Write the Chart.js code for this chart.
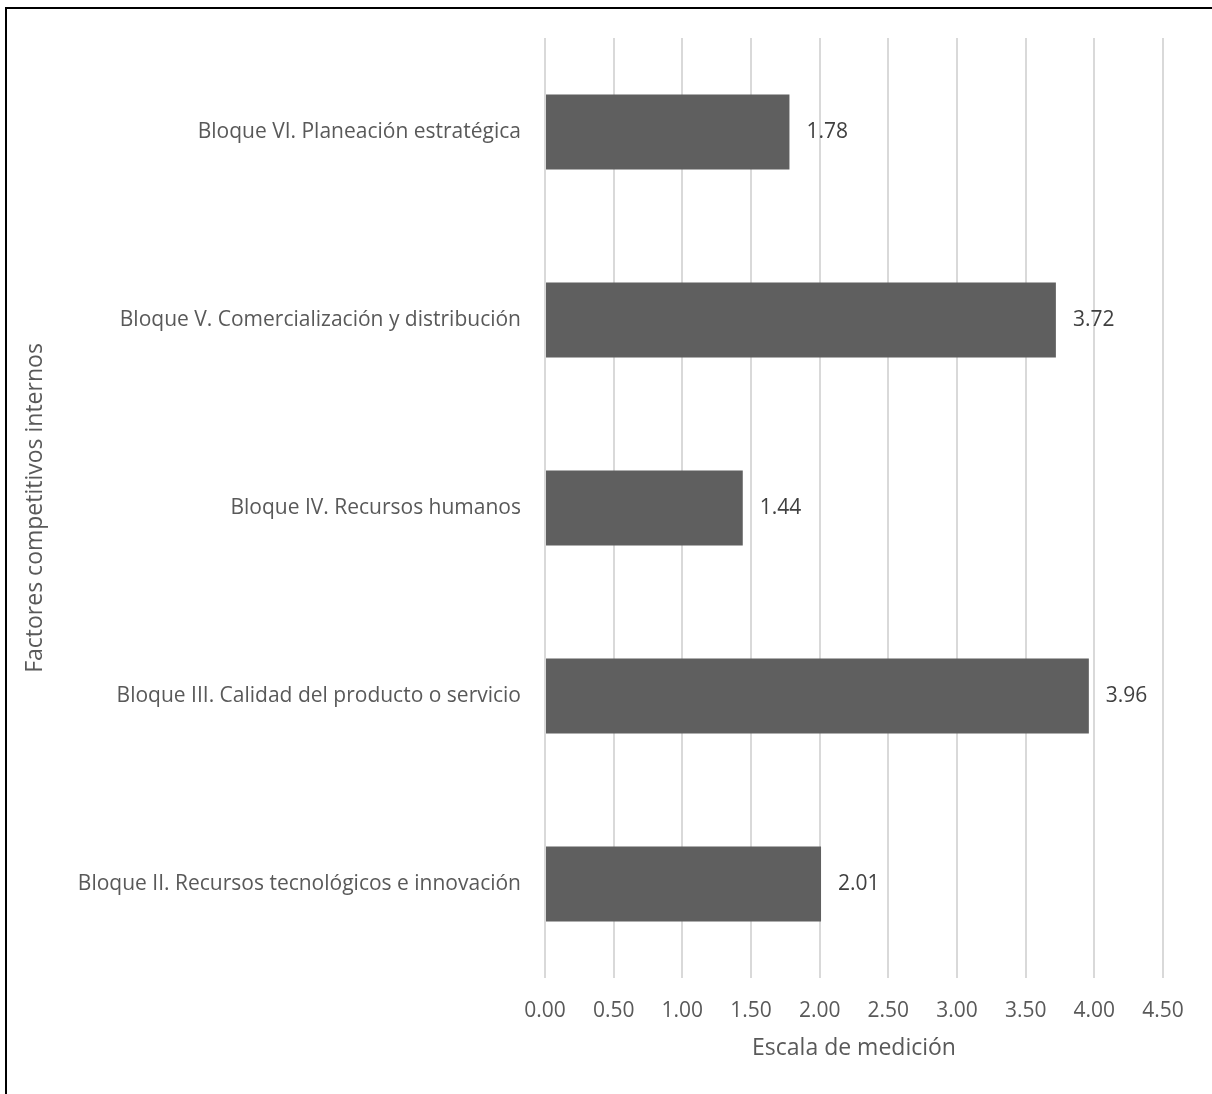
<!DOCTYPE html>
<html lang="es">
<head>
<meta charset="utf-8">
<title>Factores competitivos internos</title>
<script src="https://cdn.jsdelivr.net/npm/chart.js@4.4.1/dist/chart.umd.min.js"></script>
<style>
  html, body { margin: 0; padding: 0; background: #ffffff; overflow: hidden; }
  #wrap { position: relative; width: 1212px; height: 1094px; }
  #frame {
    position: absolute; left: 5px; top: 7px; width: 1300px; height: 1200px;
    border-top: 2px solid #000; border-left: 2px solid #000; box-sizing: border-box;
    pointer-events: none;
  }
  canvas { position: absolute; left: 0; top: 0; }
</style>
</head>
<body>
<div id="wrap">
  <canvas id="chart" width="1212" height="1094"></canvas>
  <div id="frame"></div>
</div>
<script>
// Categories, top to bottom
const categories = [
  'Bloque VI. Planeación estratégica',
  'Bloque V. Comercialización y distribución',
  'Bloque IV. Recursos humanos',
  'Bloque III. Calidad del producto o servicio',
  'Bloque II. Recursos tecnológicos e innovación'
];
// Mean score per block
const scores = [1.78, 3.72, 1.44, 3.96, 2.01];
// Measurement scale ticks
const scaleTicks = [0, 0.5, 1, 1.5, 2, 2.5, 3, 3.5, 4, 4.5];
const xTitle = 'Escala de medición';
const yTitle = 'Factores competitivos internos';

const FONT = '"Open Sans", "Liberation Sans", sans-serif';

// Value labels to the right of each bar
const valueLabels = {
  id: 'valueLabels',
  afterDatasetsDraw(chart) {
    const ctx = chart.ctx;
    const meta = chart.getDatasetMeta(0);
    ctx.save();
    ctx.font = '21px ' + FONT;
    ctx.fillStyle = '#404040';
    ctx.textAlign = 'left';
    ctx.textBaseline = 'middle';
    meta.data.forEach((bar, i) => {
      ctx.fillText(scores[i].toFixed(2), bar.x + 17, bar.y);
    });
    ctx.restore();
  }
};

new Chart(document.getElementById('chart'), {
  type: 'bar',
  data: {
    labels: categories,
    datasets: [{
      data: scores,
      backgroundColor: '#5f5f5f',
      borderWidth: 0,
      barPercentage: 0.4,
      categoryPercentage: 1.0
    }]
  },
  options: {
    indexAxis: 'y',
    responsive: false,
    animation: false,
    devicePixelRatio: 1,
    layout: { padding: { top: 38, right: 49, bottom: 0, left: 0 } },
    plugins: { legend: { display: false }, tooltip: { enabled: false } },
    scales: {
      x: {
        min: 0,
        max: 4.5,
        afterBuildTicks(scale) { scale.ticks = scaleTicks.map(v => ({ value: v })); },
        afterFit(scale) { scale.height = 116; },
        grid: { color: '#d9d9d9', lineWidth: 2, drawTicks: false },
        border: { display: false },
        ticks: {
          padding: 20,
          color: '#595959',
          font: { family: FONT, size: 21 },
          callback: v => Number(v).toFixed(2)
        },
        title: {
          display: true,
          text: xTitle,
          color: '#595959',
          font: { family: FONT, size: 23 },
          padding: { top: 0, bottom: 32 }
        }
      },
      y: {
        afterFit(scale) { scale.width = 545; },
        grid: { display: false, drawTicks: false },
        border: { display: false },
        ticks: {
          padding: 24,
          color: '#595959',
          font: { family: FONT, size: 21 }
        },
        title: {
          display: true,
          text: yTitle,
          color: '#595959',
          font: { family: FONT, size: 23 },
          padding: { top: 22, bottom: 0 }
        }
      }
    }
  },
  plugins: [valueLabels]
});
</script>
</body>
</html>
